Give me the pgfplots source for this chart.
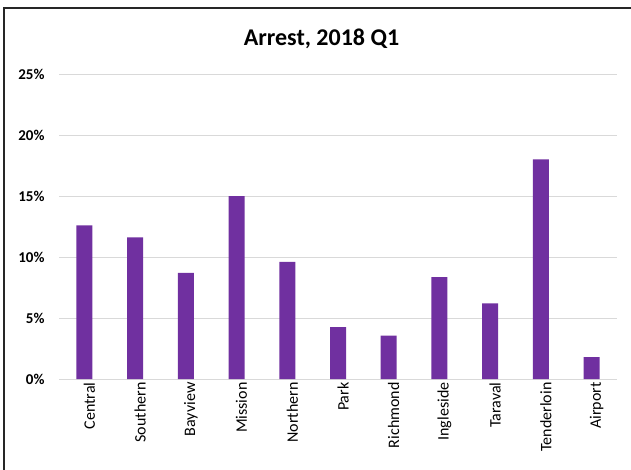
\documentclass[border=0pt]{standalone}
\usepackage{pgfplots}
\pgfplotsset{compat=1.18}
\usepackage{fontspec}
\setmainfont{Carlito}
\definecolor{barpurple}{HTML}{7030A0}
\definecolor{gridgray}{HTML}{D9D9D9}

\begin{document}
\begin{tikzpicture}[x=1pt,y=1pt]
\useasboundingbox (0,0) rectangle (631,469);
% chart frame (clipped at right and bottom)
\draw[line width=1.5pt, black!85] (4,-5) -- (4,461) -- (640,461);
\node[font=\fontsize{24}{28}\selectfont\bfseries] at (321.5,430) {Arrest, 2018 Q1};
\begin{axis}[
    at={(59pt,90pt)}, anchor=south west,
    scale only axis,
    width=558pt, height=305pt,
    xmin=-0.5, xmax=10.5,
    ymin=0, ymax=25,
    ybar, bar width=16pt,
    axis line style={draw=none},
    ymajorgrids,
    grid style={gridgray, line width=0.8pt},
    major tick length=0pt,
    ytick={0,5,10,15,20,25},
    yticklabels={0\%,5\%,10\%,15\%,20\%,25\%},
    yticklabel style={anchor=east, xshift=-11pt, font=\fontsize{15}{17}\selectfont\bfseries},
    xtick={0,1,...,10},
    xticklabels={Central,Southern,Bayview,Mission,Northern,Park,Richmond,Ingleside,Taraval,Tenderloin,Airport},
    xticklabel style={rotate=90, anchor=east, yshift=-5pt, font=\fontsize{16}{18}\selectfont},
]
\addplot[fill=barpurple, draw=none] coordinates {
    (0,12.6) (1,11.6) (2,8.7) (3,15.0) (4,9.6) (5,4.25)
    (6,3.55) (7,8.35) (8,6.2) (9,18.0) (10,1.8)
};
\end{axis}
\end{tikzpicture}
\end{document}
